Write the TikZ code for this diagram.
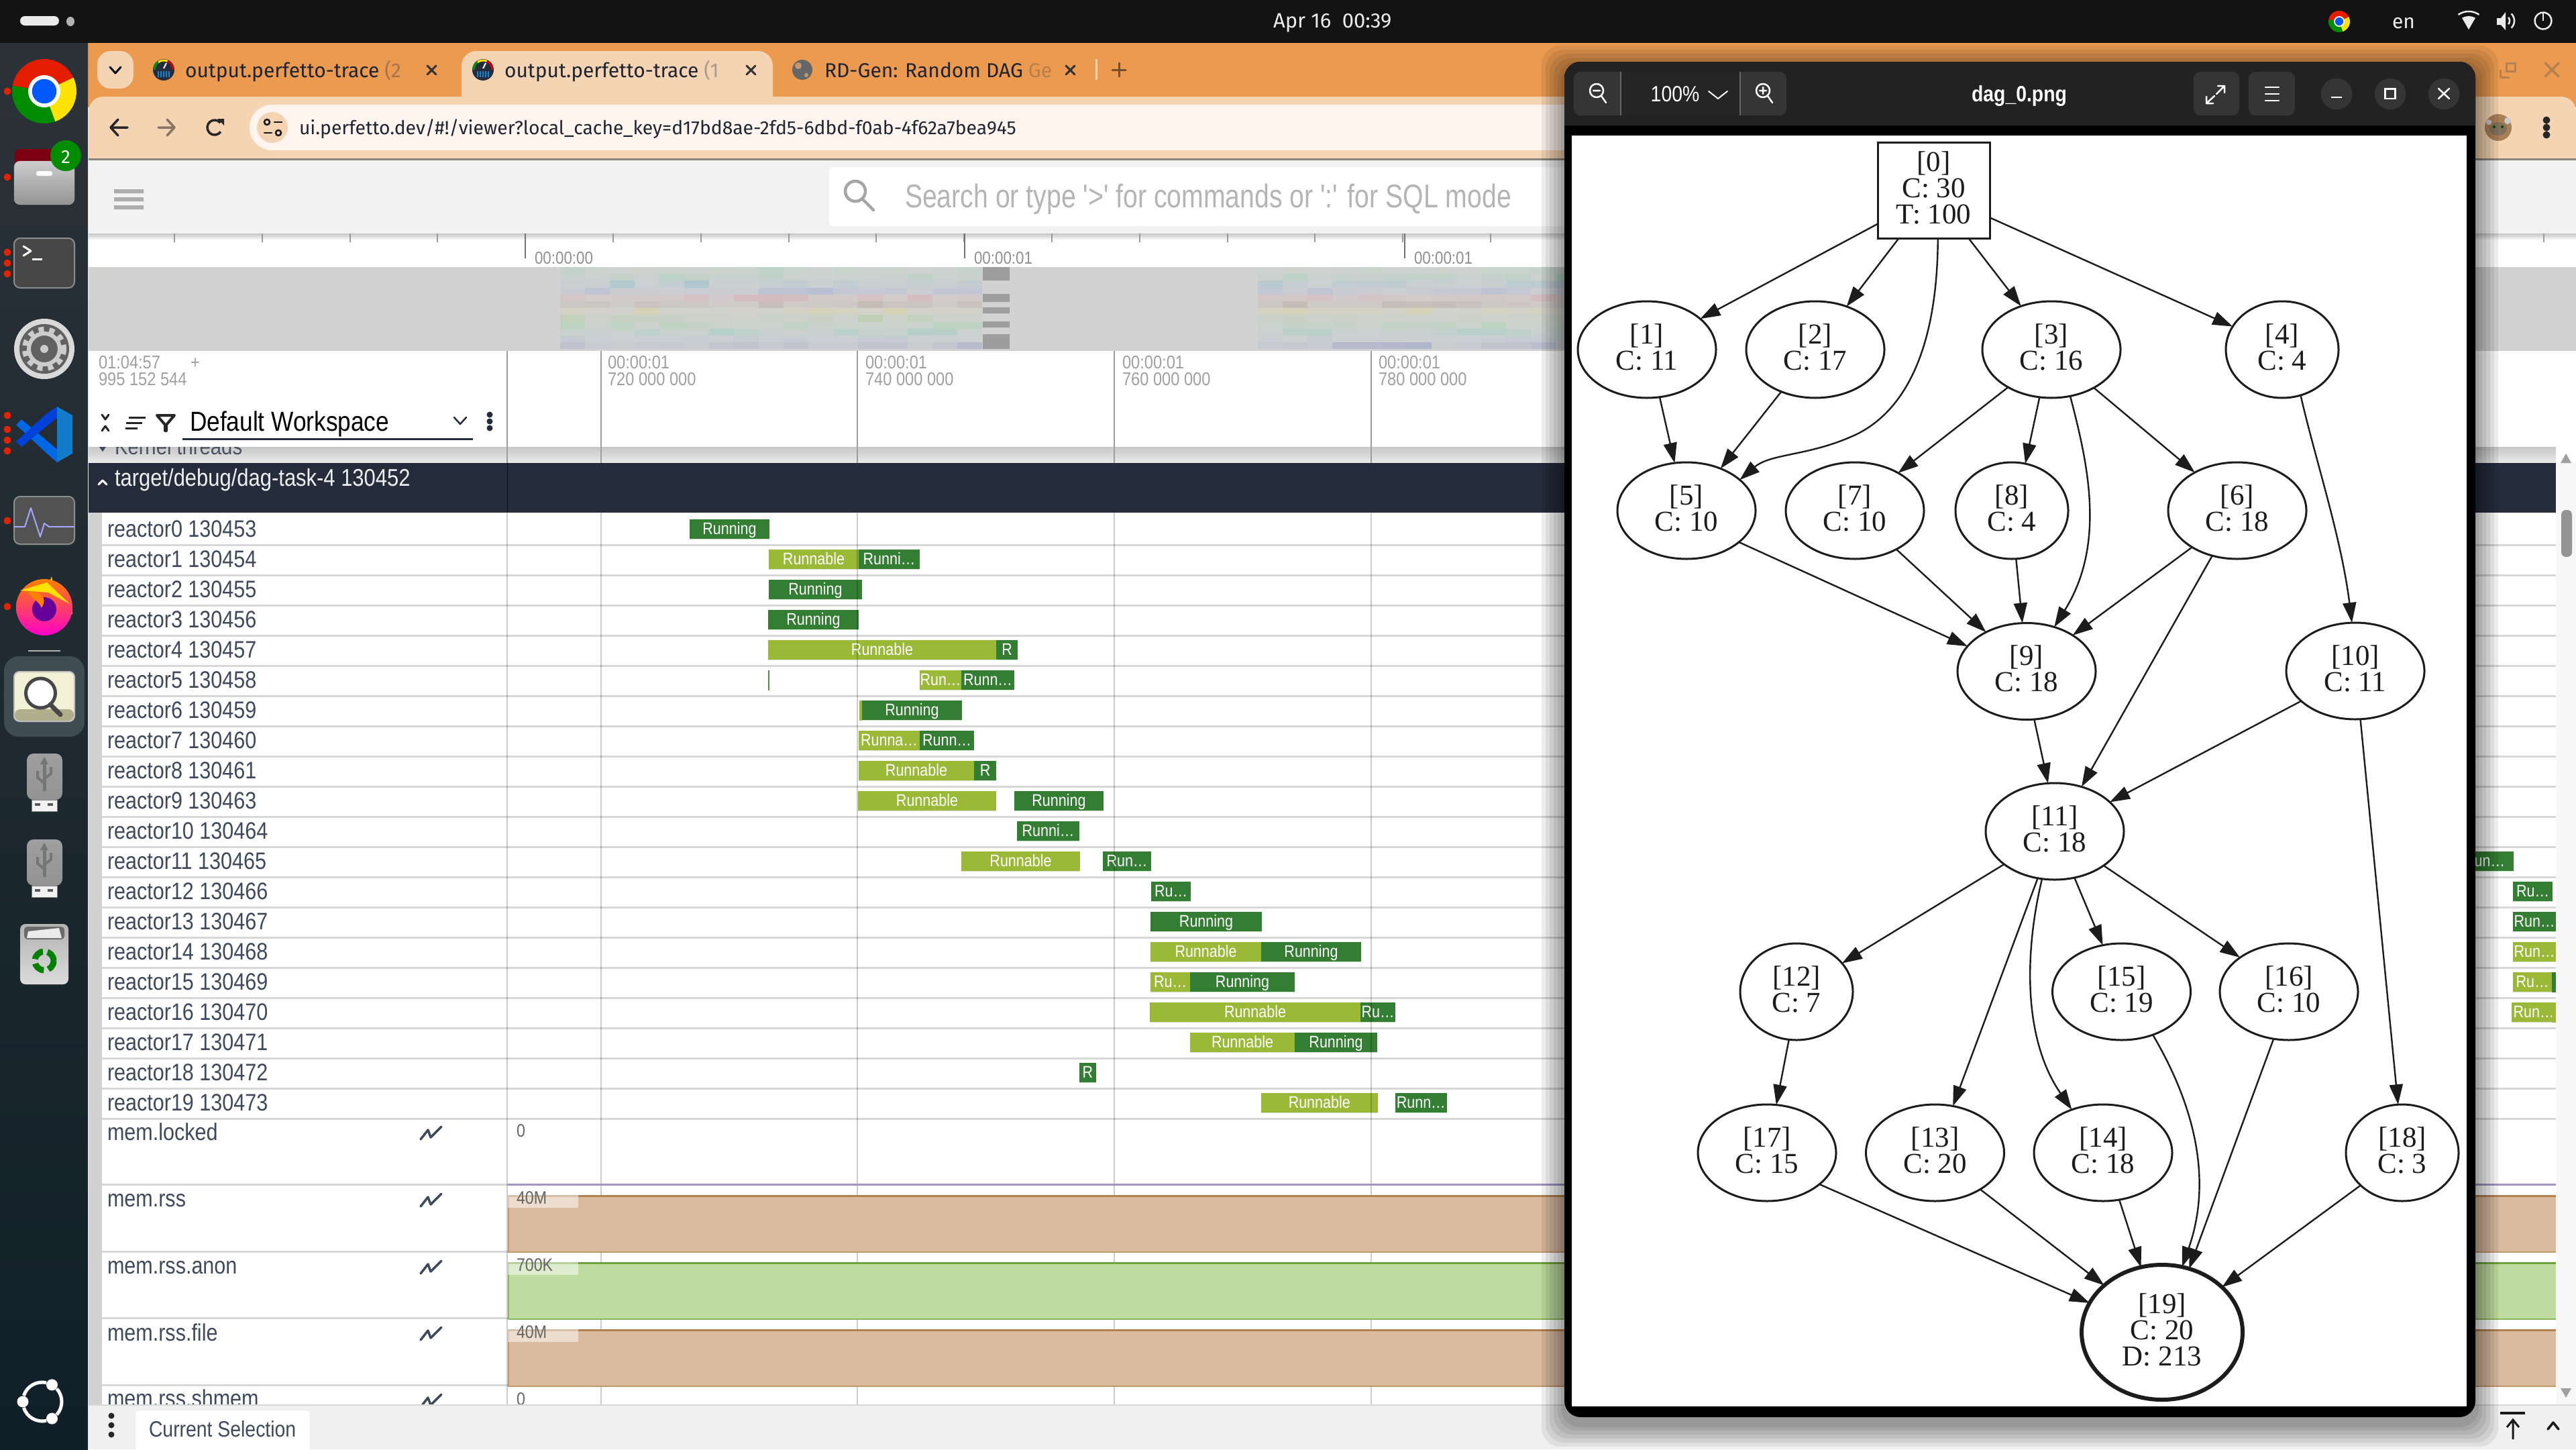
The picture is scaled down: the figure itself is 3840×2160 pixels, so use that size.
\documentclass[tikz,border=0pt]{standalone}
\usepackage{fontspec}
\usetikzlibrary{shapes.geometric,arrows.meta,calc}
\newfontfamily\uif{Liberation Sans}[FakeStretch=0.86]
\newfontfamily\searchf{Liberation Sans}[FakeStretch=0.80]
\newfontfamily\tabf{Fira Sans}
\newfontfamily\gf{Liberation Serif}
\definecolor{orangebar}{HTML}{EB9A50}
\definecolor{lighttab}{HTML}{F5D4B3}
\definecolor{urlbg}{HTML}{FFF5EE}
\definecolor{barblack}{HTML}{131313}
\definecolor{slate}{HTML}{3E4A5C}
\definecolor{headdark}{HTML}{252D3C}
\definecolor{runok}{HTML}{337E33}
\definecolor{runable}{HTML}{9AB937}
\definecolor{sep}{HTML}{D8D8D8}
\definecolor{tan}{HTML}{DABB9F}
\definecolor{tanline}{HTML}{B5814F}
\definecolor{leaf}{HTML}{BEDC9F}
\definecolor{leafline}{HTML}{6FA33A}
\definecolor{winhdr}{HTML}{222222}
\definecolor{winbtn}{HTML}{353535}
\definecolor{grayui}{HTML}{A0A0A0}
\definecolor{edgec}{HTML}{1C1C1C}
\definecolor{docktop}{HTML}{2B3238}
\definecolor{dockbot}{HTML}{101F28}
\definecolor{dockact}{HTML}{3F4C54}
\definecolor{mm0}{HTML}{B5D6C5}\definecolor{mm1}{HTML}{9FD0BB}\definecolor{mm2}{HTML}{9FC4CF}
\definecolor{mm3}{HTML}{A9B5D5}\definecolor{mm4}{HTML}{D8A5AE}\definecolor{mm5}{HTML}{B3A08C}
\definecolor{mm6}{HTML}{D8D3A8}\definecolor{mm7}{HTML}{B4D0A8}\definecolor{mm8}{HTML}{A8D5B0}
\definecolor{mm9}{HTML}{9FCFC0}\definecolor{mm10}{HTML}{B2C6D4}\definecolor{mm11}{HTML}{9FA8C8}
\tikzset{
  lbl/.style={anchor=base west,inner sep=0pt,outer sep=0pt},
  ui/.style={font=\uif\fontsize{#1}{#1}\selectfont},
  tabfont/.style={font=\tabf\fontsize{#1}{#1}\selectfont},
  gnode/.style={draw=edgec,ellipse,line width=3pt,fill=white,inner sep=0pt,outer sep=0pt,minimum width=206pt,minimum height=144pt,align=center,text=edgec,text depth=8pt,font=\gf\fontsize{43}{39}\selectfont},
  narrow/.style={minimum width=168pt},
  edge/.style={draw=edgec,line width=2.4pt,-{Triangle[length=30pt,width=20pt]}},
  uiline/.style={line width=#1,line cap=round,line join=round},
  winicon/.style={draw=white,line width=2.5pt,line cap=round,line join=round},
  slicebot/.style={draw=green!20!gray!30,line width=1.2pt},
}
\newcounter{lblc}
\newcommand{\Tx}[4][]{\stepcounter{lblc}\node[lbl,#1] (t\arabic{lblc}) at (#2,#3) {#4};}
\newcommand{\Slc}[5]{\pgfmathsetmacro\sy{773.5+45*#1}\pgfmathsetmacro\sb{\sy+30}\pgfmathsetmacro\sc{(#2+#3)/2}\pgfmathsetmacro\st{\sy+23.2}%
  \fill[#4] (#2,\sy) rectangle (#3,\sb);\draw[slicebot] (#2,\sb) -- (#3,\sb);\Tx[ui=25,text=white,anchor=base]{\sc}{\st}{#5}}
\newcommand{\ChromeIcon}[3]{\begin{scope}[shift={(#1,#2)},y=1pt]
  \fill[red!75!orange!90!black] (0,0) -- (25:#3) arc (25:170:#3) -- cycle;
  \fill[green!55!black] (0,0) -- (170:#3) arc (170:290:#3) -- cycle;
  \fill[yellow!85!orange] (0,0) -- (290:#3) arc (290:385:#3) -- cycle;
  \fill[white] (0,0) circle ({#3*0.5});
  \fill[blue!65!cyan] (0,0) circle ({#3*0.38});
\end{scope}}
\newcommand{\PerfIcon}[2]{\begin{scope}[shift={(#1,#2)},y=1pt]
  \fill[headdark] (0,0) circle (16);
  \draw[green!60!black,line width=3pt] (180:14) arc (180:125:14);
  \draw[yellow!85!orange,line width=3pt] (125:14) arc (125:65:14);
  \draw[red!80!black,line width=3pt] (65:14) arc (65:0:14);
  \draw[white,line width=2pt] (0,2) -- (4,10);
  \foreach \q in {-8,-4,0,4,8}{\draw[cyan!70!blue,line width=2pt] (\q,-2) -- (\q,-11);}
\end{scope}}
\newcommand{\UsbIcon}[1]{\begin{scope}[shift={(0,#1)}]
  \fill[white!90!gray,draw=gray] (47,69) rectangle (85,86);
  \fill[gray!70!black] (52,74) rectangle (60,78);\fill[gray!70!black] (71,74) rectangle (79,78);
  \shade[top color=gray!75,bottom color=gray!85,rounded corners=10] (40,0) rectangle (93,69);
  \draw[gray!45!black!70,line width=5pt,line cap=round] (66,12) -- (66,54);
  \draw[gray!45!black!70,line width=4pt,line join=round] (56,26) -- (56,36) -- (66,44);
  \draw[gray!45!black!70,line width=4pt,line join=round] (76,20) -- (76,30) -- (66,38);
  \fill[gray!45!black!70] (60,16) -- (66,5) -- (72,16) -- cycle;
\end{scope}}
\newcommand{\ChartIcon}[1]{\draw[slate,uiline=3.5pt] (627,#1+22) -- (638,#1+8) -- (642,#1+19) -- (658,#1+3);}
\begin{document}
\begin{tikzpicture}[x=1pt,y=-1pt]
\useasboundingbox (0,0) rectangle (3840,2160);
\fill[white] (0,0) rectangle (3840,2160);
%----- browser chrome
\fill[orangebar] (131,64) rectangle (3840,160);
\fill[lighttab] [sharp corners] (132,237) [rounded corners=22] -- (132,144) -- (3840,144) [sharp corners] -- (3840,237) -- cycle;
\fill[lighttab] [sharp corners] (688,150) [rounded corners=22] -- (688,76) -- (1152,76) [sharp corners] -- (1152,150) -- cycle;
\fill[lighttab,rounded corners=20] (145,76) rectangle (199,132);
\draw[slate!20!black,uiline=3pt] (164,100) -- (172,109) -- (180,100);
\PerfIcon{244}{104}
\PerfIcon{720}{104}
\Tx[tabfont=30,text=headdark!80!black]{276}{115}{output.perfetto-trace {\color{headdark!35!orangebar}(2}}
\draw[black!80,uiline=3pt] (637,98) -- (650,111) (650,98) -- (637,111);
\Tx[tabfont=30,text=headdark!80!black]{752}{115}{output.perfetto-trace {\color{headdark!35!lighttab}(1}}
\draw[black!80,uiline=3pt] (1113,98) -- (1126,111) (1126,98) -- (1113,111);
\fill[black!60] (1196,104) circle (15);
\fill[orangebar!70!black!70] (1190,98) circle (5) (1202,112) circle (3);
\Tx[tabfont=30,text=headdark!80!black]{1229}{115}{RD-Gen: Random DAG {\color{headdark!25!orangebar}Ge}}
\draw[black!80,uiline=3pt] (1589,98) -- (1602,111) (1602,98) -- (1589,111);
\draw[lighttab,line width=3pt] (1634,88) -- (1634,119);
\draw[black!50!orangebar,uiline=3pt] (1658,104) -- (1678,104) (1668,94) -- (1668,114);
\draw[black!35!lighttab!40!gray,line width=3pt] (132,237) -- (3840,237);
\fill[urlbg,rounded corners=34] (372,156) rectangle (2420,224);
\fill[lighttab] (406,190) circle (23);
\draw[slate!30!black,uiline=2.5pt] (409,182) -- (420,182) (394,198) -- (405,198);
\draw[slate!30!black,line width=2.5pt] (398,182) circle (4) (415,198) circle (4);
\draw[black!85,uiline=3.5pt] (190,190) -- (165,190) (176,178) -- (165,190) -- (176,202);
\draw[black!45!lighttab,uiline=3.5pt] (236,190) -- (260,190) (249,178) -- (260,190) -- (249,202);
\begin{scope}[shift={(320,190)},y=1pt]
\draw[black!85,line width=3.5pt] (40:11) arc (40:325:11);
\fill[black!85] (4,13) -- (14,13) -- (14,3) -- cycle;
\end{scope}
\Tx[tabfont=28.3,text=headdark!85!black]{446}{200}{ui.perfetto.dev/\#!/viewer?local\_cache\_key=d17bd8ae-2fd5-6dbd-f0ab-4f62a7bea945}
\begin{scope}[shift={(3724,190)},y=1pt]
\fill[brown!65!gray] (0,0) circle (20);
\fill[brown!40!black!70] (0,-2) ellipse (13 and 10);
\fill[gray!40] (-14,8) circle (4) (14,10) circle (5);
\fill[green!30!black] (-6,1) circle (2) (6,1) circle (2);
\end{scope}
\fill[black!85] (3796,179) circle (5.5) (3796,190) circle (5.5) (3796,201) circle (5.5);
\draw[tanline,line width=3pt] (3727,115) -- (3727,104) (3727,115) -- (3741,115) (3736,94) rectangle (3749,106);
\draw[tanline,uiline=3.5pt] (3794,94) -- (3814,114) (3814,94) -- (3794,114);
%----- search row
\fill[black!5] (132,238.5) rectangle (3840,348);
\fill[white,rounded corners=6] (1236,249) rectangle (2400,337);
\fill[black!32] (170,282) rectangle (214,288) (170,294) rectangle (214,300) (170,306) rectangle (214,312);
\draw[gray!70,line width=4.5pt] (1275,285) circle (15);
\draw[gray!70,line width=4.5pt,line cap=round] (1285,296) -- (1302,313);
\Tx[font=\searchf\fontsize{49}{49}\selectfont,text=gray!58]{1349}{309}{Search or type '>' for commands or ':' for SQL mode}
%----- ruler
\shade[top color=black!22,bottom color=white] (132,348) rectangle (3840,358);
\foreach \k in {0,...,27}{
  \pgfmathsetmacro\tx{260+130.8*\k}
  \draw[black!40,line width=2pt] (\tx,348) -- (\tx,361);}
\foreach \tx/\tl in {783/00:00:00,1438/00:00:01,2094/00:00:01}{
  \draw[black!55,line width=2pt] (\tx,348) -- (\tx,385);
  \pgfmathsetmacro\lx{\tx+14}
  \Tx[ui=26,text=grayui!90!black]{\lx}{393}{\tl}}
%----- minimap
\fill[black!17.5] (132,398) rectangle (3840,522);
\pgfmathsetseed{11}
\foreach \r in {0,...,11}{
  \pgfmathsetmacro\yt{398+10.2*\r}
  \pgfmathsetmacro\yb{\yt+10.2}
  \foreach \k in {0,...,16}{
    \pgfmathsetmacro\xa{835+37*\k}
    \pgfmathsetmacro\xb{\xa+37}
    \pgfmathsetmacro\ox{0.12+0.6*rnd*rnd}
    \fill[mm\r,opacity=\ox] (\xa,\yt) rectangle (\xb,\yb);}
  \foreach \k in {0,...,12}{
    \pgfmathsetmacro\xa{1875+37*\k}
    \pgfmathsetmacro\xb{\xa+37}
    \pgfmathsetmacro\ox{0.12+0.6*rnd*rnd}
    \fill[mm\r,opacity=\ox] (\xa,\yt) rectangle (\xb,\yb);}
}
\fill[black!38] (1465,398) rectangle (1505,418) (1465,438) rectangle (1505,450) (1465,458) rectangle (1505,467) (1465,479) rectangle (1505,488) (1465,498) rectangle (1505,520);
\draw[black!18,line width=2pt] (132,522) -- (3840,522);
%----- tracks header
\fill[white] (132,523) rectangle (3840,666);
\Tx[ui=27.5,text=grayui]{147}{549}{01:04:57}
\Tx[ui=27.5,text=grayui,anchor=base]{291}{549}{+}
\Tx[ui=27.5,text=grayui]{147}{574}{995 152 544}
\foreach \tx/\ta in {906/720 000 000,1290/740 000 000,1673/760 000 000,2055/780 000 000}{
  \Tx[ui=27.5,text=grayui]{\tx}{549}{00:00:01}
  \Tx[ui=27.5,text=grayui]{\tx}{574}{\ta}}
\shade[top color=black!22,bottom color=black!8] (132,666) rectangle (3810,690);
\begin{scope}
\clip (132,666) rectangle (756,690);
\Tx[ui=34,text=slate!85!gray]{171}{677}{Kernel threads}
\fill[slate] (148,666) -- (158,666) -- (153,673) -- cycle;
\end{scope}
\foreach \lx in {756,896,1278,1661,2044}{\draw[black!38,line width=2pt] (\lx,523) -- (\lx,690);}
\draw[black!85,uiline=3pt] (152,618) -- (157,625) -- (162,618) (152,642) -- (157,635) -- (162,642);
\draw[black!85,line width=3pt] (192,622) -- (217,622) (188,630) -- (212,630) (187,638) -- (205,638);
\draw[black!85,line width=4pt,line join=round] (234,619) -- (260,619) -- (248,633) -- (248,642) -- (246,642) -- (246,633) -- cycle;
\Tx[ui=41,text=black]{283}{642}{Default Workspace}
\draw[headdark,line width=3pt] (272,654) -- (705,654);
\draw[headdark,uiline=2.5pt] (677,622) -- (686,632) -- (695,622);
\fill[headdark] (730,618) circle (4.5) (730,628) circle (4.5) (730,638) circle (4.5);
\fill[headdark] (132,690) rectangle (3810,764);
\draw[black!70!headdark,line width=1pt] (756,690) -- (756,764);
\draw[white,uiline=3pt] (147,722) -- (153,716) -- (159,722);
\Tx[ui=36,text=white!92!slate]{171}{724}{target/debug/dag-task-4 130452}
%----- rows
\fill[white] (132,764) rectangle (3810,2094);
\fill[white!97!black] (3810,690) rectangle (3840,2094);
\fill[black!17.5] (132,764) rectangle (152,2094);
\foreach \k in {0,...,19}{
  \pgfmathsetmacro\ly{812.5+45*\k}
  \draw[sep,line width=3pt] (152,\ly) -- (3810,\ly);}
\foreach \ly in {1765,1865,1964.6,2064.5}{\draw[sep,line width=3pt] (152,\ly) -- (3810,\ly);}
\foreach \k/\id in {0/130453,1/130454,2/130455,3/130456,4/130457,5/130458,6/130459,7/130460,8/130461,9/130463,10/130464,11/130465,12/130466,13/130467,14/130468,15/130469,16/130470,17/130471,18/130472,19/130473}{
  \pgfmathsetmacro\ly{800+45*\k}
  \Tx[ui=35.5,text=slate]{160}{\ly}{reactor\k{} \id}}
%----- slices
\Slc{0}{1028}{1147}{runok}{Running}
\Slc{1}{1146}{1280}{runable}{Runnable}
\Slc{1}{1280}{1371}{runok}{Runni…}
\Slc{2}{1146}{1285}{runok}{Running}
\Slc{3}{1145}{1280}{runok}{Running}
\Slc{4}{1145}{1485}{runable}{Runnable}
\Slc{4}{1485}{1517}{runok}{R}
\fill[runok!70!runable] (1145,998.5) rectangle (1146.5,1028.5);
\Slc{5}{1371}{1433}{runable}{Run…}
\Slc{5}{1433}{1512}{runok}{Runn…}
\fill[runable] (1281,1043.5) rectangle (1285,1073.5);
\Slc{6}{1285}{1434}{runok}{Running}
\Slc{7}{1280}{1371}{runable}{Runna…}
\Slc{7}{1371}{1452}{runok}{Runn…}
\Slc{8}{1280}{1452}{runable}{Runnable}
\Slc{8}{1452}{1485}{runok}{R}
\Slc{9}{1279}{1485}{runable}{Runnable}
\Slc{9}{1512}{1645}{runok}{Running}
\Slc{10}{1516}{1609}{runok}{Runni…}
\Slc{11}{1433}{1610}{runable}{Runnable}
\Slc{11}{1644}{1716}{runok}{Run…}
\Slc{12}{1716}{1775}{runok}{Ru…}
\Slc{13}{1715}{1881}{runok}{Running}
\Slc{14}{1715}{1880}{runable}{Runnable}
\Slc{14}{1880}{2029}{runok}{Running}
\Slc{15}{1715}{1774}{runable}{Ru…}
\Slc{15}{1774}{1930}{runok}{Running}
\Slc{16}{1714}{2028}{runable}{Runnable}
\Slc{16}{2028}{2080}{runok}{Ru…}
\Slc{17}{1774}{1930}{runable}{Runnable}
\Slc{17}{1930}{2053}{runok}{Running}
\Slc{18}{1608.5}{1634}{runok}{R}
\Slc{19}{1879.5}{2054}{runable}{Runnable}
\Slc{19}{2079.5}{2157}{runok}{Runn…}
\Slc{11}{3660}{3747}{runok}{Run…}
\Slc{12}{3746}{3805}{runok}{Ru…}
\Slc{13}{3746}{3810}{runok}{Run…}
\Slc{14}{3746}{3810}{runable}{Run…}
\Slc{15}{3746}{3804}{runable}{Ru…}
\fill[runok] (3804,1449) rectangle (3810,1479);
\Slc{16}{3744}{3810}{runable}{Run…}
\fill[runable] (3804,1494) rectangle (3810,1524);
%----- grid over rows
\foreach \lx in {756,896,1278,1661,2044}{\draw[black,opacity=0.2,line width=2pt] (\lx,764) -- (\lx,2094);}
%----- mem rows
\draw[violet!45!blue!40!gray!60,line width=3pt] (757,1765) -- (3810,1765);
\foreach \ty/\fc/\lc/\lb in {1781/tan/tanline/40M,1881/leaf/leafline/700K,1981/tan/tanline/40M}{
  \fill[\fc] (757,\ty) rectangle (3810,\ty+85);
  \draw[\lc!65!\fc,line width=2pt] (757.5,\ty) -- (757.5,\ty+85) -- (3810,\ty+85);
  \draw[\lc,line width=3pt] (757,\ty+1) -- (3810,\ty+1);
  \fill[white,opacity=0.5] (757,\ty) rectangle (862,\ty+19);
  \pgfmathsetmacro\lby{\ty+13.5}
  \Tx[ui=27,text=black!60]{770}{\lby}{\lb}}
\Tx[ui=27,text=black!60]{770}{1694}{0}
\Tx[ui=27,text=black!60]{770}{2094}{0}
\Tx[ui=35.5,text=slate]{160}{1699}{mem.locked}
\Tx[ui=35.5,text=slate]{160}{1798}{mem.rss}
\Tx[ui=35.5,text=slate]{160}{1898}{mem.rss.anon}
\Tx[ui=35.5,text=slate]{160}{1998}{mem.rss.file}
\Tx[ui=35.5,text=slate]{160}{2096}{mem.rss.shmem}
\ChartIcon{1676}\ChartIcon{1776}\ChartIcon{1876}\ChartIcon{1975}\ChartIcon{2075}
%----- scrollbar
\fill[gray!85,rounded corners=7] (3818,760) rectangle (3834,830);
\fill[gray!75] (3825,676) -- (3833,690) -- (3817,690) -- cycle;
\fill[gray!75] (3825,2083) -- (3833,2069) -- (3817,2069) -- cycle;
%----- bottom bar
\fill[black!6] (132,2094) rectangle (3840,2160);
\draw[black!15,line width=2pt] (132,2094) -- (3840,2094);
\fill[black!85] (166,2110) circle (4.5) (166,2124) circle (4.5) (166,2138) circle (4.5);
\fill[white,rounded corners=4,draw=black!10] (202,2102) rectangle (462,2175);
\Tx[ui=33,text=slate]{222}{2141}{Current Selection}
\draw[black!90,line width=4pt] (3727,2106) -- (3764,2106);
\draw[black!90,line width=3pt] (3746,2145) -- (3746,2116) (3737,2127) -- (3746,2116) -- (3755,2127);
\draw[black!90,uiline=3.5pt] (3798,2130) -- (3806,2120) -- (3814,2130);
%----- top bar & dock
\fill[barblack] (0,0) rectangle (3840,64);
\fill[white!92!black,rounded corners=7] (30,24) rectangle (88,38);
\fill[gray!60] (105,32) ellipse (6 and 7);
\Tx[tabfont=31,text=white!92!black]{1898}{41}{Apr 16\ \ 00:39}
\ChromeIcon{3487}{32}{16}
\Tx[tabfont=30,text=white!92!black,anchor=base]{3583}{42}{en}
\begin{scope}[shift={(3680,44)},y=1pt]
\fill[white!92!black] (0,0) -- (60:20) arc (60:120:20) -- cycle;
\draw[white!92!black,line width=2.5pt] (55:27) arc (55:125:27);
\end{scope}
\fill[white!92!black] (3722,27) -- (3728,27) -- (3735,18) -- (3735,45) -- (3728,37) -- (3722,37) -- cycle;
\begin{scope}[shift={(3733,31)},y=1pt]
\draw[white!92!black,line width=2.5pt] (-40:8) arc (-40:40:8) (-45:15) arc (-45:45:15);
\end{scope}
\begin{scope}[shift={(3791,31)},y=1pt]
\draw[white!92!black,line width=2.5pt] (60:12.5) arc (60:420:12.5);
\draw[white!92!black,line width=2.5pt] (0,13) -- (0,0);
\end{scope}
\shade[top color=docktop,bottom color=dockbot] (0,64) rectangle (131,2160);
\foreach \dy in {136,264,376,392,408,619,640,656,672,776,904,1037}{\fill[red!70!orange!90!black] (11,\dy) circle (5.5);}
\fill[dockact,rounded corners=22] (6,978) rectangle (126,1098);
\draw[gray!60,line width=2pt] (42,970) -- (90,970);
\ChromeIcon{66}{136}{48}
% files
\fill[red!40!black!75!purple,rounded corners=8] (22,222) rectangle (82,255);
\shade[top color=black!20,bottom color=black!42,rounded corners=9,draw=black!30] (21,240) rectangle (111,305);
\fill[white,rounded corners=3] (54,255) rectangle (78,262);
\fill[green!55!black] (98,232) circle (23);
\Tx[tabfont=28,text=white,anchor=base]{98}{243}{2}
% terminal
\fill[black!72,rounded corners=9,draw=black!45,line width=2pt] (21,355) rectangle (111,429);
\draw[white,uiline=3pt] (35,367) -- (46,374) -- (35,381);
\draw[white,line width=3pt] (48,386) -- (63,386);
% settings
\fill[white!85!black] (66,520) circle (45);
\fill[black!62] (66,520) circle (37);
\draw[white!80!black,line width=6pt] (66,520) circle (23);
\draw[white!80!black,line width=8pt,dash pattern=on 8pt off 8pt] (66,520) circle (29);
\fill[black!62] (66,520) circle (13);
\fill[white!80!black] (66,520) circle (6);
% vscode
\fill[blue!55!cyan!90!black] (24,633) -- (32,625) -- (88,672) -- (85,689) -- (70,676) -- cycle;
\fill[blue!70!cyan!85!black] (24,658) -- (32,666) -- (88,620) -- (85,606) -- (70,616) -- cycle;
\fill[cyan!60!blue] (85,606) -- (108,619) -- (108,676) -- (85,689) -- cycle;
% monitor
\fill[black!68,rounded corners=9,draw=black!45,line width=2pt] (21,740) rectangle (111,811);
\draw[blue!35!white,uiline=2pt] (22,785) -- (37,785) -- (46,757) -- (60,800) -- (66,780) -- (73,785) -- (110,785);
% firefox
\fill[yellow!85!orange] (77,859) .. controls (80,885) and (105,885) .. (108,915) -- (60,905) .. controls (62,885) and (70,880) .. (77,859) -- cycle;
\shade[top color=orange,bottom color=magenta!80!red] (66,905) circle (42);
\fill[yellow!85!orange] (30,880) -- (70,868) -- (104,900) -- (72,883) -- cycle;
\fill[violet!80!blue] (66,908) circle (18);
\fill[orange] (40,882) .. controls (60,880) and (72,890) .. (62,906) .. controls (58,896) and (48,892) .. (40,882) -- cycle;
% magnifier app
\fill[white!88!olive,rounded corners=8,draw=black!25,line width=2pt] (21,1001) rectangle (111,1075);
\fill[olive!30!gray!70,rounded corners=8] (22,1057) rectangle (110,1074);
\fill[white] (60.5,1033) circle (22);
\draw[black!72,line width=5pt] (60.5,1033) circle (22);
\draw[black!72,line width=7pt,line cap=round] (75,1050) -- (90,1065);
\UsbIcon{1123}
\UsbIcon{1251}
% trash
\shade[top color=black!30,bottom color=black!14,rounded corners=8] (30,1377) rectangle (102,1467);
\fill[black!58,rounded corners=5] (36,1381) rectangle (96,1400);
\fill[white!92!black] (42,1388) -- (88,1383) -- (92,1398) -- (40,1398) -- cycle;
\begin{scope}[shift={(66,1432)},y=1pt]
\draw[green!50!black,line width=9pt,dash pattern=on 17pt off 7pt] (0,0) circle (14);
\end{scope}
% ubuntu logo
\begin{scope}[shift={(63,2089)},y=1pt]
\draw[white,line width=5pt] (78:29) arc (78:162:29) (198:29) arc (198:282:29) (-42:29) arc (-42:42:29);
\fill[white] (60:29) circle (8.5) (180:29) circle (8.5) (-60:29) circle (8.5);
\end{scope}
%----- image viewer window
\foreach \d in {34,28,22,16,10,5}{
  \fill[black,opacity=0.07,rounded corners=28] (2332-\d,92-\d+10) rectangle (3690+\d,2112+\d+10);}
\fill[black,rounded corners=24] (2332,92) rectangle (3690,2112);
\fill[winhdr] [sharp corners] (2332,187) [rounded corners=24] -- (2332,92) -- (3690,92) [sharp corners] -- (3690,187) -- cycle;
\fill[white] (2343,202) rectangle (3677,2096);
\fill[winbtn,rounded corners=10] (2346,107) rectangle (2663,172);
\fill[winhdr!85!winbtn] (2416,107) rectangle (2594,172);
\draw[black!60,line width=1.5pt] (2416,107) -- (2416,172) (2594,107) -- (2594,172);
\draw[winicon] (2380,135) circle (10) (2387,143) -- (2394,153) (2375,135) -- (2385,135);
\draw[winicon] (2628,135) circle (10) (2635,143) -- (2642,153) (2623,135) -- (2633,135) (2628,130) -- (2628,140);
\Tx[ui=33,text=white,anchor=base]{2497}{151}{100\%}
\draw[winicon,line width=2pt] (2547,136) -- (2561,147) -- (2575,136);
\node[lbl,anchor=base,font=\uif\bfseries\fontsize{33}{33}\selectfont,text=white] (wintitle) at (3010,151) {dag\_0.png};
\fill[winbtn,rounded corners=10] (3270,107) rectangle (3338,172);
\fill[winbtn,rounded corners=10] (3352,107) rectangle (3421,172);
\draw[winicon] (3304,140) -- (3316,128) (3306,128) -- (3316,128) -- (3316,138) (3301,143) -- (3289,154) (3299,154) -- (3289,154) -- (3289,144);
\draw[winicon] (3377,130) -- (3397,130) (3377,140) -- (3397,140) (3377,150) -- (3397,150);
\fill[winbtn] (3483,140) circle (23.3) (3563,140) circle (23.3) (3643,140) circle (23.3);
\draw[white,line width=2.5pt] (3475,145) -- (3491,145) (3555.5,132.5) rectangle (3570.5,147);
\draw[white,uiline=2.5pt] (3635,132) -- (3651,147) (3651,132) -- (3635,147);
%----- DAG
\node[gnode,rectangle,minimum width=167pt,minimum height=143pt] (n0) at (2882.5,283.5) {[0]\\C: 30\\T: 100};
\node[gnode] (n1) at (2455,521) {[1]\\C: 11};
\node[gnode] (n2) at (2706,521) {[2]\\C: 17};
\node[gnode] (n3) at (3058,521) {[3]\\C: 16};
\node[gnode,narrow] (n4) at (3402,521) {[4]\\C: 4};
\node[gnode] (n5) at (2514,761) {[5]\\C: 10};
\node[gnode] (n7) at (2765,761) {[7]\\C: 10};
\node[gnode,narrow] (n8) at (2999,761) {[8]\\C: 4};
\node[gnode] (n6) at (3335,761) {[6]\\C: 18};
\node[gnode] (n9) at (3021,1000.5) {[9]\\C: 18};
\node[gnode] (n10) at (3511,1000) {[10]\\C: 11};
\node[gnode] (n11) at (3063,1239) {[11]\\C: 18};
\node[gnode,narrow] (n12) at (2678,1478) {[12]\\C: 7};
\node[gnode] (n15) at (3162.5,1478) {[15]\\C: 19};
\node[gnode] (n16) at (3412,1478) {[16]\\C: 10};
\node[gnode] (n17) at (2634,1718) {[17]\\C: 15};
\node[gnode] (n13) at (2884.5,1718) {[13]\\C: 20};
\node[gnode] (n14) at (3135,1718) {[14]\\C: 18};
\node[gnode,narrow] (n18) at (3581,1718) {[18]\\C: 3};
\node[gnode,line width=6pt,minimum width=240pt,minimum height=201pt] (n19) at (3223,1985.5) {[19]\\C: 20\\D: 213};
\foreach \a/\aa/\b/\bb in {0/211/1/30,0/234/2/54,0/306/3/125,0/334/4/155,1/285/5/104,2/231/5/51,3/221/7/41,3/256/8/74,3/318/6/138,5/329/9/157,7/317/9/136,8/275/9/95,6/219/9/38,6/241/11/59,9/279/11/98,10/209/11/28,10/276/18/95,11/213/12/32,11/250/13/69,11/293/15/112,11/325/16/145,12/261/17/79,17/329/19/158,13/321/19/141,14/289/19/108,16/252/19/67,18/218/19/37}{
  \draw[edge] (n\a.\aa) -- (n\b.\bb);}
\draw[edge] (n0.275) .. controls (2888,520) and (2840,610) .. (2770,646) .. controls (2700,680) and (2640,675) .. (n5.30);
\draw[edge] (n3.292) .. controls (3112,690) and (3140,810) .. (n9.58);
\draw[edge] (n4.292) .. controls (3450,680) and (3490,800) .. (n10.94);
\draw[edge] (n11.255) .. controls (3022,1400) and (3010,1540) .. (n14.126);
\draw[edge] (n15.306) .. controls (3255,1620) and (3305,1740) .. (n19.73);
\end{tikzpicture}
\end{document}
